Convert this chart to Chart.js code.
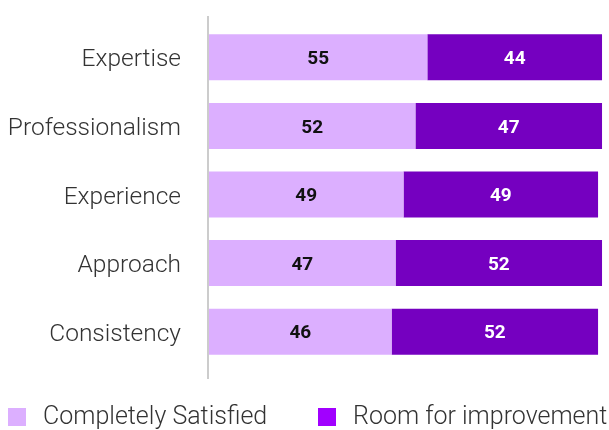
<!DOCTYPE html>
<html>
<head>
<meta charset="utf-8">
<script src="https://cdn.jsdelivr.net/npm/chart.js@4/dist/chart.umd.min.js"></script>
<style>
html,body{margin:0;padding:0;background:#fff;}
#wrap{width:609px;height:430px;position:relative;}
</style>
</head>
<body>
<div id="wrap"><canvas id="c"></canvas></div>
<script>
const categories = ["Expertise", "Professionalism", "Experience", "Approach", "Consistency"];
const satisfied = [55, 52, 49, 47, 46];
const improvement = [44, 47, 49, 52, 52];
const seriesNames = ["Completely Satisfied", "Room for improvement"];

const FONT = "Roboto, 'Liberation Sans', sans-serif";

const valueLabels = {
  id: 'valueLabels',
  afterDatasetsDraw(chart) {
    const ctx = chart.ctx;
    ctx.save();
    ctx.font = "bold 19px " + FONT;
    ctx.textAlign = 'center';
    ctx.textBaseline = 'middle';
    chart.data.datasets.forEach((ds, di) => {
      const meta = chart.getDatasetMeta(di);
      meta.data.forEach((bar, i) => {
        const x = (bar.x + bar.base) / 2;
        ctx.fillStyle = di === 0 ? '#111111' : '#ffffff';
        ctx.fillText(String(ds.data[i]), x, bar.y + 2);
      });
    });
    ctx.restore();
  }
};

const axisLine = {
  id: 'axisLine',
  beforeDatasetsDraw(chart) {
    const ctx = chart.ctx;
    const a = chart.chartArea;
    ctx.save();
    ctx.strokeStyle = '#cccccc';
    ctx.lineWidth = 2;
    ctx.beginPath();
    ctx.moveTo(a.left - 1, a.top - 7);
    ctx.lineTo(a.left - 1, a.bottom + 13);
    ctx.stroke();
    ctx.restore();
  }
};

const bottomLegend = {
  id: 'bottomLegend',
  afterDraw(chart) {
    const ctx = chart.ctx;
    const starts = [8, 318];
    const y = 417;
    ctx.save();
    ctx.font = "300 25px " + FONT;
    ctx.textBaseline = 'middle';
    ctx.textAlign = 'left';
    chart.data.datasets.forEach((ds, i) => {
      ctx.fillStyle = ds.legendColor;
      ctx.fillRect(starts[i], y - 9, 18, 18);
      ctx.fillStyle = '#333333';
      ctx.fillText(ds.label, starts[i] + 35, y + 1);
    });
    ctx.restore();
  }
};

new Chart(document.getElementById('c'), {
  type: 'bar',
  data: {
    labels: categories,
    datasets: [
      { label: seriesNames[0], data: satisfied, backgroundColor: '#dcafff', legendColor: '#dcafff' },
      { label: seriesNames[1], data: improvement, backgroundColor: '#7500c0', legendColor: '#a100ff' }
    ]
  },
  options: {
    indexAxis: 'y',
    responsive: true,
    maintainAspectRatio: false,
    animation: false,
    devicePixelRatio: 1,
    layout: { padding: { top: 23, right: 3, left: 0, bottom: 64 } },
    datasets: { bar: { categoryPercentage: 1, barPercentage: 0.67, borderWidth: 0 } },
    scales: {
      x: {
        stacked: true, min: 0, max: 100,
        display: false
      },
      y: {
        stacked: true,
        grid: { display: false, drawTicks: false },
        border: { display: false },
        afterFit(scale) { scale.width = 209; scale.paddingTop = 0; scale.paddingBottom = 0; },
        ticks: { color: '#333333', padding: 28, labelOffset: 3, font: { family: FONT, size: 24.5, weight: 300 } }
      }
    },
    plugins: {
      tooltip: { enabled: false },
      legend: { display: false }
    }
  },
  plugins: [valueLabels, axisLine, bottomLegend]
});
</script>
</body>
</html>
